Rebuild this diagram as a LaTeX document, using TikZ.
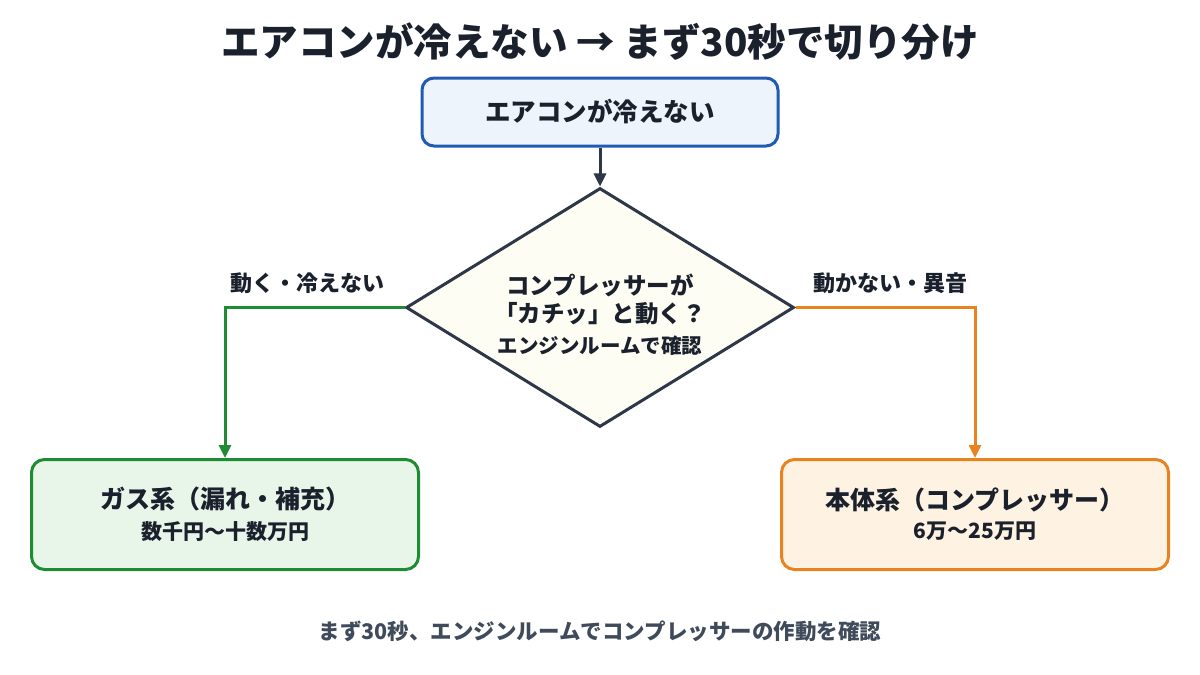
\documentclass[tikz,border=0pt]{standalone}
\usepackage{fontspec}
\setmainfont{Noto Sans CJK JP}[BoldFont={Noto Sans CJK JP Black}]
\usetikzlibrary{shapes.geometric,arrows.meta}
\definecolor{Ink}{HTML}{1A202C}
\definecolor{Slate}{HTML}{2D3748}
\definecolor{Muted}{HTML}{3F4A5A}
\definecolor{Blue}{HTML}{1F5BB5}
\definecolor{BlueBg}{HTML}{EEF4FC}
\definecolor{Cream}{HTML}{FDFDF3}
\definecolor{Green}{HTML}{1F8B32}
\definecolor{GreenBg}{HTML}{E8F6E9}
\definecolor{Orange}{HTML}{E8841F}
\definecolor{OrangeBg}{HTML}{FEF3E3}
\newcommand{\fs}[1]{\fontsize{#1}{#1}\selectfont\bfseries}

\begin{document}
\begin{tikzpicture}[x=1pt,y=-1pt,line width=3pt,
  box/.style={draw,rounded corners=13pt,minimum width=387pt,minimum height=110pt,
    align=center,text=Ink},
  lbl/.style={text=Ink,font=\fs{22}},
  tip/.style={-{Triangle[length=13pt,width=12pt]}}]
  \fill[white] (0,0) rectangle (1200,675);
  \useasboundingbox (0,0) rectangle (1200,675);
  \node[text=Ink,font=\fs{38.5}] (title) at (600,42) {エアコンが冷えない → まず30秒で切り分け};
  \node[box,draw=Blue,fill=BlueBg,minimum width=356pt,minimum height=68pt,
    rounded corners=12pt,font=\fs{25.5}] (start) at (600,112) {エアコンが冷えない};
  \node[diamond,draw=Slate,fill=Cream,inner sep=0pt,minimum width=388pt,
    minimum height=239pt] (chk) at (600,307.5) {};
  \node[text=Ink,align=center,font=\fs{23.5}] (ask) at (600,314.5)
    {コンプレッサーが\\[5pt]「カチッ」と動く？\\[7pt]{\fs{20.5}エンジンルームで確認}};
  \node[box,draw=Green,fill=GreenBg] (gas) at (225,514.5)
    {{\fs{25}ガス系（漏れ・補充）}\\[9pt]{\fs{21}数千円〜十数万円}};
  \node[box,draw=Orange,fill=OrangeBg] (unit) at (975,514.5)
    {{\fs{25}本体系（コンプレッサー）}\\[9pt]{\fs{21}6万〜25万円}};
  \draw[tip,Slate] (start) -- (chk);
  \draw[tip,Green] (chk.west) -| (gas.north);
  \draw[tip,Orange] (chk.east) -| (unit.north);
  \node[lbl] (yes) at (307,283) {動く・冷えない};
  \node[lbl] (no) at (890,283) {動かない・異音};
  \node[text=Muted,font=\fs{21.5}] (note) at (600,631)
    {まず30秒、エンジンルームでコンプレッサーの作動を確認};
\end{tikzpicture}
\end{document}
